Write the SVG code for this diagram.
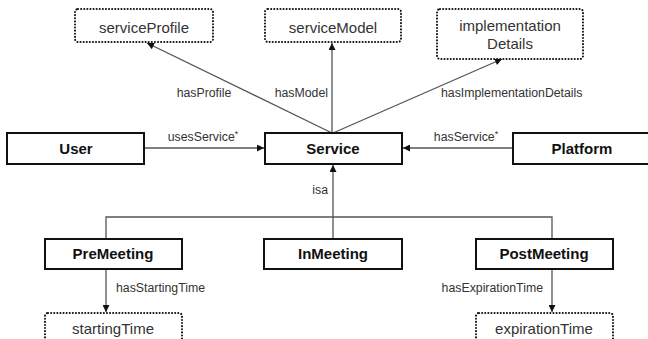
<svg xmlns="http://www.w3.org/2000/svg" width="648" height="339" viewBox="0 0 648 339">
  <style>
    .cls rect { fill: #fff; stroke: #111; stroke-width: 2; }
    .cls text { font-family: "Liberation Sans", Arial, sans-serif; font-size: 15px; font-weight: bold; fill: #111; text-anchor: middle; }
    .val rect { fill: #fff; stroke: #111; stroke-width: 2; stroke-dasharray: 0.1 3; stroke-linecap: round; }
    .val text { font-family: "Liberation Sans", Arial, sans-serif; font-size: 15px; fill: #333; text-anchor: middle; }
    .edge { fill: none; stroke: #555; stroke-width: 1.3; }
    .lbl { font-family: "Liberation Sans", Arial, sans-serif; font-size: 12.3px; fill: #333; }
    .sup { font-size: 9px; }
  </style>
  <defs>
    <marker id="arrow" viewBox="0 0 10 10" refX="10" refY="5" markerWidth="8" markerHeight="7" markerUnits="userSpaceOnUse" orient="auto">
      <path d="M0,0 L10,5 L0,10 Z" fill="#111"/>
    </marker>
  </defs>

  <rect width="648" height="339" fill="#fff"/>

  <!-- connectors -->
  <g id="connectors">
    <line class="edge" x1="144" y1="148" x2="264" y2="148" marker-end="url(#arrow)"/>
    <line class="edge" x1="513" y1="148" x2="403" y2="148" marker-end="url(#arrow)"/>
    <line class="edge" x1="332" y1="133" x2="147" y2="43" marker-end="url(#arrow)"/>
    <line class="edge" x1="332" y1="133" x2="332" y2="43" marker-end="url(#arrow)"/>
    <line class="edge" x1="333" y1="133" x2="502" y2="59" marker-end="url(#arrow)"/>
    <!-- isa hierarchy -->
    <line class="edge" x1="333" y1="239" x2="333" y2="165" marker-end="url(#arrow)"/>
    <polyline class="edge" points="106,239 106,217 552,217 552,239"/>
    <line class="edge" x1="106" y1="269" x2="106" y2="312" marker-end="url(#arrow)"/>
    <line class="edge" x1="552" y1="269" x2="552" y2="312" marker-end="url(#arrow)"/>

    <text class="lbl" x="203" y="141" text-anchor="middle">usesService<tspan class="sup" dy="-4">*</tspan></text>
    <text class="lbl" x="466" y="141" text-anchor="middle">hasService<tspan class="sup" dy="-4">*</tspan></text>
    <text class="lbl" x="204" y="97" text-anchor="middle">hasProfile</text>
    <text class="lbl" x="328" y="97" text-anchor="end">hasModel</text>
    <text class="lbl" x="441" y="97">hasImplementationDetails</text>
    <text class="lbl" x="328" y="194" text-anchor="end">isa</text>
    <text class="lbl" x="116" y="292">hasStartingTime</text>
    <text class="lbl" x="543" y="292" text-anchor="end">hasExpirationTime</text>
  </g>

  <!-- value nodes -->
  <g id="serviceProfile" class="val">
    <rect x="75" y="9" width="138" height="33" rx="3"/>
    <text x="144" y="33">serviceProfile</text>
  </g>
  <g id="serviceModel" class="val">
    <rect x="265" y="9" width="136" height="33" rx="3"/>
    <text x="333" y="33">serviceModel</text>
  </g>
  <g id="implementationDetails" class="val">
    <rect x="437" y="9" width="146" height="50" rx="3"/>
    <text x="510" y="31">implementation</text>
    <text x="510" y="49">Details</text>
  </g>
  <g id="startingTime" class="val">
    <rect x="45" y="313" width="137" height="40" rx="3"/>
    <text x="113" y="334">startingTime</text>
  </g>
  <g id="expirationTime" class="val">
    <rect x="476" y="313" width="137" height="40" rx="3"/>
    <text x="544" y="334">expirationTime</text>
  </g>

  <!-- class nodes -->
  <g id="User" class="cls">
    <rect x="7" y="133" width="137" height="31"/>
    <text x="76" y="154">User</text>
  </g>
  <g id="Service" class="cls">
    <rect x="265" y="133" width="137" height="31"/>
    <text x="333" y="154">Service</text>
  </g>
  <g id="Platform" class="cls">
    <rect x="513" y="133" width="140" height="31"/>
    <text x="582" y="154">Platform</text>
  </g>
  <g id="PreMeeting" class="cls">
    <rect x="45" y="239" width="137" height="30"/>
    <text x="113" y="259">PreMeeting</text>
  </g>
  <g id="InMeeting" class="cls">
    <rect x="264" y="239" width="138" height="30"/>
    <text x="333" y="259">InMeeting</text>
  </g>
  <g id="PostMeeting" class="cls">
    <rect x="476" y="239" width="137" height="30"/>
    <text x="544" y="259">PostMeeting</text>
  </g>
</svg>
